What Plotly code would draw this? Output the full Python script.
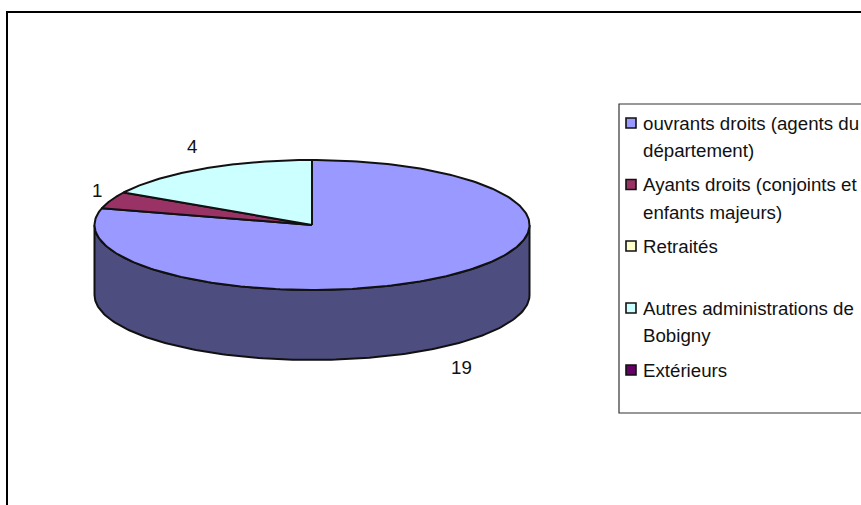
import numpy as np
import plotly.graph_objects as go

categories = ["ouvrants droits (agents du<br>département)", "Ayants droits (conjoints et<br>enfants majeurs)",
              "Retraités", "Autres administrations de<br>Bobigny", "Extérieurs"]
values = [19, 1, 0, 4, 0]
colors = ["#9999FF", "#993366", "#FFFFCC", "#CCFFFF", "#660066"]
side_colors = ["#4D4D80", "#4D1A33", "#808066", "#668080", "#330033"]

W, H = 861, 505
CX, CY, RX, RY, DEPTH = 312, 225, 217.5, 65, 70
LINE = "#111111"
FONT = dict(family="Liberation Sans, Arial, sans-serif", size=18.7, color="#111111")

fig = go.Figure()
total = sum(values)
start = 0.0


def ell(t):
    return CX + RX * np.sin(t), CY - RY * np.cos(t)


bounds = []
for i, v in enumerate(values):
    end = start + v / total * 2 * np.pi
    bounds.append((start, end))
    start = end

# Side wall: front part of each slice (angles from 90 to 270 degrees clockwise)
for (a, b), sc, v in zip(bounds, side_colors, values):
    lo, hi = max(a, np.pi / 2), min(b, 3 * np.pi / 2)
    if v == 0 or hi <= lo:
        continue
    t = np.linspace(lo, hi, 160)
    x, y = ell(t)
    fig.add_trace(go.Scatter(
        x=np.r_[x, x[::-1], x[0]], y=np.r_[y, (y + DEPTH)[::-1], y[0]],
        mode="lines", fill="toself", fillcolor=sc, line=dict(color=LINE, width=2),
        hoverinfo="skip", showlegend=False))

# Top face
for (a, b), c, v in zip(bounds, colors, values):
    if v == 0:
        continue
    t = np.linspace(a, b, 240)
    x, y = ell(t)
    fig.add_trace(go.Scatter(
        x=np.r_[CX, x, CX], y=np.r_[CY, y, CY],
        mode="lines", fill="toself", fillcolor=c, line=dict(color=LINE, width=2),
        hoverinfo="skip", showlegend=False))

# Legend swatches
LEG_Y = [123, 184.5, 246, 308, 370]
fig.add_trace(go.Scatter(
    x=[631] * len(categories), y=LEG_Y, mode="markers",
    marker=dict(symbol="square", size=10, color=colors, line=dict(color=LINE, width=1.6)),
    hoverinfo="skip", showlegend=False))

annotations = []
for name, yy in zip(categories, LEG_Y):
    for j, part in enumerate(name.split("<br>")):
        annotations.append(dict(x=640.5, y=yy + j * 27.5, text=part, xref="x", yref="y", showarrow=False,
                                xanchor="left", yanchor="middle", font=FONT))
for txt, lx, ly in [(values[0], 461, 367), (values[1], 97, 190), (values[3], 192, 146)]:
    annotations.append(dict(x=lx, y=ly, text=str(txt), xref="x", yref="y", showarrow=False,
                            xanchor="center", yanchor="middle", font=FONT))

shapes = [
    dict(type="rect", x0=7, y0=12, x1=900, y1=540, xref="x", yref="y",
         line=dict(color="#000000", width=2), layer="below"),
    dict(type="rect", x0=619, y0=104, x1=900, y1=413, xref="x", yref="y",
         line=dict(color="#333333", width=1.2), layer="below"),
]

fig.update_layout(
    width=W, height=H, margin=dict(l=0, r=0, t=0, b=0),
    paper_bgcolor="white", plot_bgcolor="white", showlegend=False,
    xaxis=dict(range=[0, W], visible=False, fixedrange=True),
    yaxis=dict(range=[H, 0], visible=False, fixedrange=True),
    shapes=shapes, annotations=annotations,
)
fig.write_html("out.html", config={"displayModeBar": False},
               post_script="document.body.style.margin='0';document.body.style.overflow='hidden';")
